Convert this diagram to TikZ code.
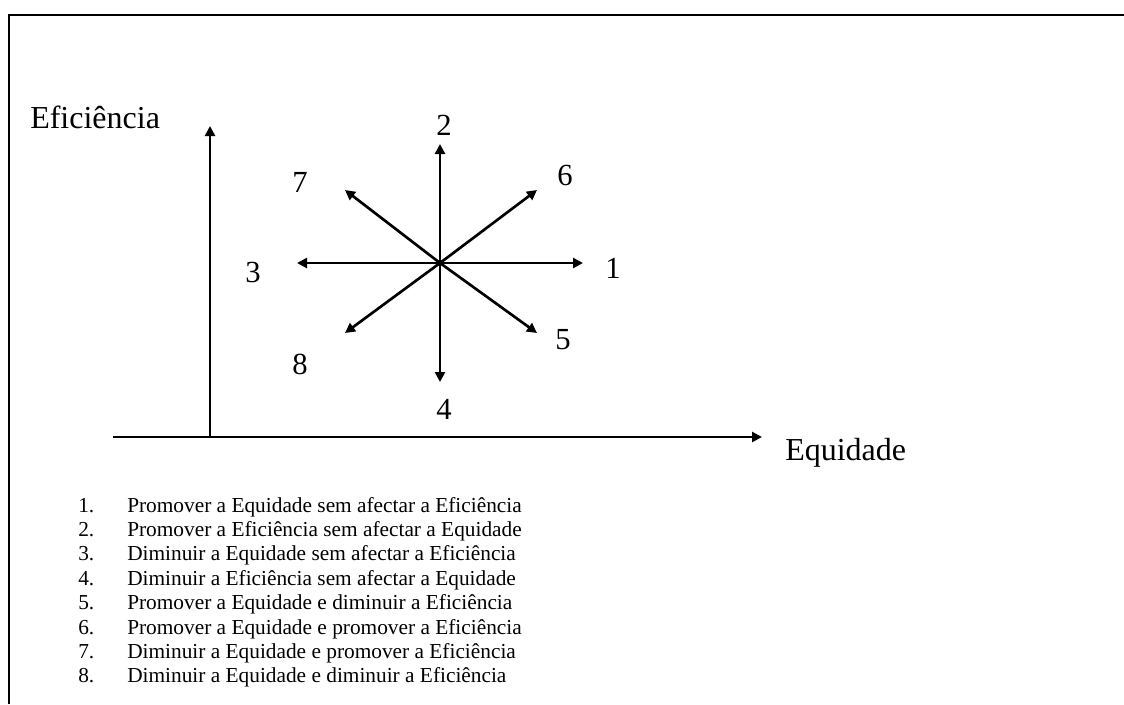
\documentclass[tikz,border=0pt]{standalone}
\usepackage{fontspec}
\setmainfont{Liberation Serif}
\usetikzlibrary{arrows.meta}
\begin{document}
\begin{tikzpicture}[x=0.75pt,y=-0.75pt,
  arr/.style={line width=2pt,-{Triangle[length=7.5pt,width=7.5pt]}},
  frame/.style={line width=1.6pt},
  axlabel/.style={font=\fontsize{24}{28}\selectfont,inner sep=0pt},
  dirlabel/.style={font=\fontsize{23}{27}\selectfont,inner sep=0pt},
  item/.style={font=\fontsize{16}{19}\selectfont,inner sep=0pt,anchor=base west}]
\useasboundingbox (0,0) rectangle (1124,704);
% frame (clipped box)
\coordinate (fb) at (9,704);
\coordinate (fc) at (9,15);
\coordinate (fr) at (1124,15);
\draw[frame] (fb) -- (fc) -- (fr);
% axes
\coordinate (o) at (210,437);
\coordinate (ytip) at (210,126);
\coordinate (xs) at (113,437);
\coordinate (xtip) at (762,437);
\draw[arr] (o) -- (ytip);
\draw[arr] (xs) -- (xtip);
\node[axlabel,anchor=base west] (ef) at (30,128) {Eficiência};
\node[axlabel,anchor=base west] (eq) at (785,460) {Equidade};
% star
\coordinate (c) at (440,263);
\coordinate (t1) at (583,263);
\coordinate (t2) at (440,144);
\coordinate (t3) at (297,263);
\coordinate (t4) at (440,382);
\coordinate (t5) at (537,333);
\coordinate (t6) at (537,190);
\coordinate (t7) at (345,190);
\coordinate (t8) at (345,333);
\foreach \i in {1,...,8} {\draw[arr] (c) -- (t\i);}
\node[dirlabel] (l1) at (613,268) {1};
\node[dirlabel] (l2) at (444,125) {2};
\node[dirlabel] (l3) at (253,272) {3};
\node[dirlabel] (l4) at (444,409) {4};
\node[dirlabel] (l5) at (563,340) {5};
\node[dirlabel] (l6) at (565,175) {6};
\node[dirlabel] (l7) at (300,182) {7};
\node[dirlabel] (l8) at (300,364) {8};
% list
\foreach \n/\t [count=\k from 0] in {
 1/{Promover a Equidade sem afectar a Eficiência},
 2/{Promover a Eficiência sem afectar a Equidade},
 3/{Diminuir a Equidade sem afectar a Eficiência},
 4/{Diminuir a Eficiência sem afectar a Equidade},
 5/{Promover a Equidade e diminuir a Eficiência},
 6/{Promover a Equidade e promover a Eficiência},
 7/{Diminuir a Equidade e promover a Eficiência},
 8/{Diminuir a Equidade e diminuir a Eficiência}} {
  \node[item] (num\n) at (78,{512+24.4*\k}) {\n.};
  \node[item] (txt\n) at (127,{512+24.4*\k}) {\t};
}
\end{tikzpicture}
\end{document}
